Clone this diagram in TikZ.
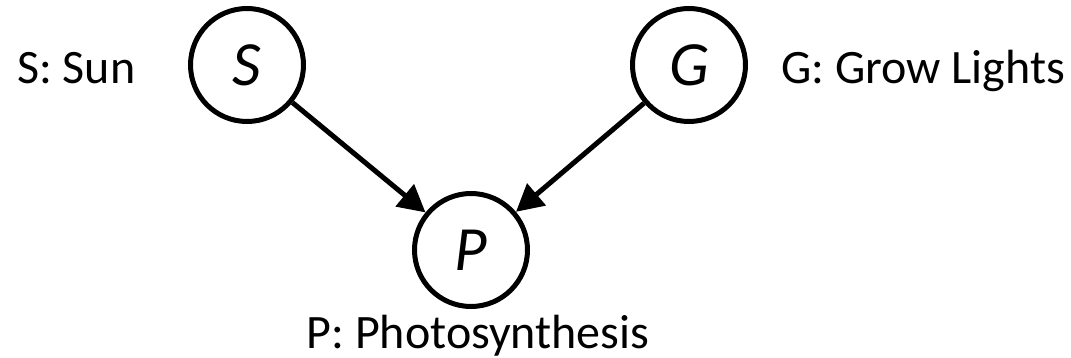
\documentclass[tikz,border=0pt]{standalone}
\usepackage{fontspec}
\setmainfont{Carlito}
\usetikzlibrary{arrows.meta}
\begin{document}
\begin{tikzpicture}[x=1pt,y=-1pt,
  var/.style={circle,draw,line width=5pt,minimum size=113pt,inner sep=0pt,
    font=\fontsize{63}{63}\selectfont\itshape},
  lbl/.style={font=\fontsize{48}{48}\selectfont,inner sep=0pt},
  edge/.style={line width=5pt,-{Triangle[length=27pt,width=28pt]}}]
\useasboundingbox (0,0) rectangle (1071,358);
\node[var] (S) at (247,65) {S};
\node[var] (G) at (689,65) {G};
\node[var] (P) at (471,250) {P};
\node[lbl,anchor=base west] (Sl) at (17,84) {S: Sun};
\node[lbl,anchor=base west] (Gl) at (781,84) {G: Grow Lights};
\node[lbl,anchor=base] (Pl) at (478,348) {P: Photosynthesis};
\draw[edge] (S) -- (P);
\draw[edge] (G) -- (P);
\end{tikzpicture}
\end{document}
